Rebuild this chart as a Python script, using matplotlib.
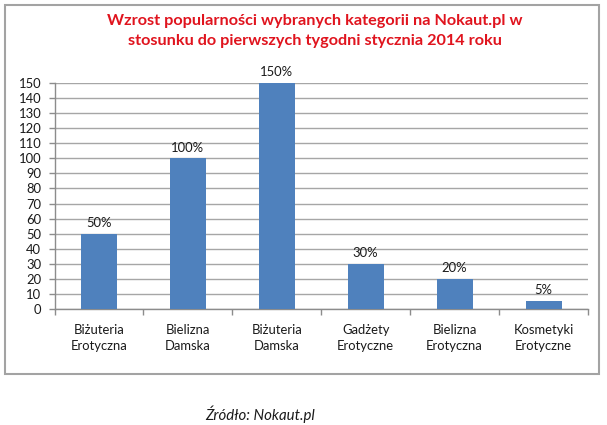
import matplotlib
matplotlib.use("Agg")
import matplotlib.pyplot as plt
from matplotlib.patches import Rectangle
import numpy as np

categories = ["Biżuteria\nErotyczna", "Bielizna\nDamska", "Biżuteria\nDamska",
              "Gadżety\nErotyczne", "Bielizna\nErotyczna", "Kosmetyki\nErotyczne"]
values = [50, 100, 150, 30, 20, 5]
value_labels = ["50%", "100%", "150%", "30%", "20%", "5%"]
yticks = list(range(0, 151, 10))
title = "Wzrost popularności wybranych kategorii na Nokaut.pl w\nstosunku do pierwszych tygodni stycznia 2014 roku"
source = "Źródło: Nokaut.pl"

plt.rcParams['font.family'] = ['Lato', 'DejaVu Sans']

W, H = 607, 425
fig = plt.figure(figsize=(W / 100, H / 100), dpi=100)
fig.patch.set_facecolor("white")

def px(x0, y0, x1, y1):
    return [x0 / W, 1 - y1 / H, (x1 - x0) / W, (y1 - y0) / H]

ax = fig.add_axes(px(54.5, 83.3, 588, 308.7))
x = np.arange(len(values))
bars = ax.bar(x, values, width=0.405, color="#4F81BD", zorder=3)
ax.set_xlim(-0.5, len(values) - 0.5)
ax.set_ylim(0, 150)
ax.set_yticks(yticks)
ax.set_yticklabels([str(t) for t in yticks])
ax.set_xticks(x)
ax.set_xticklabels(categories, linespacing=1.4)
ax.set_xticks(np.arange(-0.5, len(values), 1.0), minor=True)
ax.tick_params(axis="x", which="major", length=0, pad=11, labelsize=9.4, colors="#1a1a1a")
ax.tick_params(axis="x", which="minor", length=4, width=1, color="#8c8c8c", direction="out")
ax.tick_params(axis="y", length=4, width=1, color="#8c8c8c", pad=5.5, labelsize=9.4, labelcolor="#1a1a1a")
ax.grid(axis="y", color="#a6a6a6", linewidth=1, zorder=0)
for s in ["top", "right"]:
    ax.spines[s].set_visible(False)
for s in ["left", "bottom"]:
    ax.spines[s].set_color("#8c8c8c")
    ax.spines[s].set_linewidth(1)
for b, lab in zip(bars, value_labels):
    ax.annotate(lab, (b.get_x() + b.get_width() / 2, b.get_height()),
                xytext=(0, 3.5), textcoords="offset points", ha="center", va="bottom",
                fontsize=9.4, color="#1a1a1a")

fig.text(315 / W, 1 - 31 / H, title, ha="center", va="center", color="#E0141E",
         fontsize=11.7, fontweight="bold", linespacing=1.55)

fig.patches.append(Rectangle((5 / W, 1 - 374 / H), 594 / W, 369 / H, transform=fig.transFigure,
                             fill=False, edgecolor="#a3a3a3", linewidth=1.5))

fig.text(260 / W, 1 - 414 / H, source, ha="center", va="center", style="italic",
         fontsize=10.8, color="#1a1a1a")

fig.savefig("out.png", dpi=100)
